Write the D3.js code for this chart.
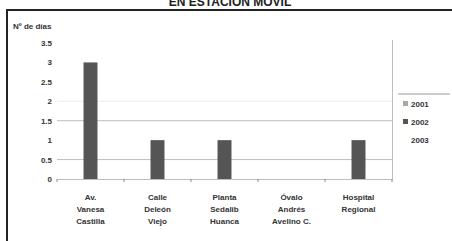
<!DOCTYPE html>
<html><head><meta charset="utf-8">
<script src="https://cdn.jsdelivr.net/npm/d3@7"></script>
<style>body{margin:0;background:#fff}svg{display:block;font-family:"Liberation Sans",Arial,sans-serif}</style>
</head><body><svg id="c" width="452" height="241"></svg>
<script>
const title = "EN ESTACION MOVIL";
const yTitle = "Nº de días";
const categories = [
  ["Av.", "Vanesa", "Castilla"],
  ["Calle", "Deleón", "Viejo"],
  ["Planta", "Sedalib", "Huanca"],
  ["Óvalo", "Andrés", "Avelino C."],
  ["Hospital", "Regional"]
];
const seriesNames = ["2001", "2002", "2003"];
const values2001 = [0, 0, 0, 0, 0];
const values2002 = [3, 1, 1, 0, 1];
const values2003 = [0, 0, 0, 0, 0];
const yTicks = [0, 0.5, 1, 1.5, 2, 2.5, 3, 3.5];
const gridValues = [0.5, 1.5, 2];
const colors = ["#a8a8a8", "#555555", "#f4f4f4"];

const series = [values2001, values2002, values2003];
const svg = d3.select("#c");
const L = 57, R = 392, T = 43, B = 179;

svg.append("text").attr("x", 230).attr("y", 6).attr("text-anchor", "middle")
  .attr("font-size", 12).attr("font-weight", "bold").attr("fill", "#222").text(title);
// outer frame
svg.append("line").attr("x1", 6).attr("x2", 452).attr("y1", 10).attr("y2", 10).attr("stroke", "#222").attr("stroke-width", 2);
svg.append("line").attr("x1", 7).attr("x2", 7).attr("y1", 9).attr("y2", 241).attr("stroke", "#222").attr("stroke-width", 2);

const y = d3.scaleLinear().domain([0, 3.5]).range([B, T]);
const x = d3.scaleBand().domain(d3.range(categories.length)).range([L, R]).paddingInner(0).paddingOuter(0);
const xs = d3.scaleBand().domain(d3.range(series.length)).range([0, x.bandwidth()]).paddingInner(0).paddingOuter(0.9);

// gridlines
svg.append("g").selectAll("line").data(gridValues).join("line")
  .attr("x1", L).attr("x2", R).attr("y1", d => y(d)).attr("y2", d => y(d))
  .attr("stroke", d => d === 2 ? "#ececec" : "#bdbdbd").attr("stroke-width", 1);
// right border of plot
svg.append("line").attr("x1", R + 0.5).attr("x2", R + 0.5).attr("y1", T - 3).attr("y2", B).attr("stroke", "#bdbdbd");

// y axis
const ya = svg.append("g").attr("transform", `translate(${L},0)`)
  .call(d3.axisLeft(y).tickValues(yTicks).tickSize(0).tickPadding(5).tickFormat(d3.format("")));
ya.select(".domain").remove();
ya.selectAll("text").attr("font-size", 8).attr("font-weight", "bold").attr("fill", "#333");
svg.append("text").attr("x", 13).attr("y", 29).attr("font-size", 8).attr("font-weight", "bold").attr("fill", "#333").text(yTitle);

// bars
series.forEach((vals, si) => {
  svg.append("g").selectAll("rect").data(vals).join("rect")
    .attr("x", (d, i) => x(i) + xs(si))
    .attr("width", xs.bandwidth())
    .attr("y", d => y(d))
    .attr("height", d => B - y(d))
    .attr("fill", colors[si]);
});

// x axis
const xa = svg.append("g").attr("transform", `translate(0,${B})`)
  .call(d3.axisBottom(x).tickSize(0).tickFormat(""));
xa.select(".domain").attr("stroke", "#bdbdbd");
svg.append("g").selectAll("line").data(d3.range(categories.length + 1)).join("line")
  .attr("x1", i => L + i * x.bandwidth()).attr("x2", i => L + i * x.bandwidth())
  .attr("y1", B).attr("y2", B + 3).attr("stroke", "#888");
const lab = svg.append("g");
categories.forEach((lines, i) => {
  const t = lab.append("text").attr("text-anchor", "middle").attr("font-size", 8).attr("font-weight", "bold").attr("fill", "#333");
  lines.forEach((s, j) => t.append("tspan").attr("x", x(i) + x.bandwidth() / 2).attr("y", 200 + j * 12).text(s));
});

// legend
svg.append("line").attr("x1", 398).attr("x2", 450).attr("y1", 94).attr("y2", 94).attr("stroke", "#999");
const lg = svg.append("g").selectAll("g").data(seriesNames).join("g")
  .attr("transform", (d, i) => `translate(403,${104 + i * 18})`);
lg.append("rect").attr("x", 0).attr("y", -3).attr("width", 5).attr("height", 5).attr("fill", (d, i) => i === 2 ? "none" : colors[i]);
lg.append("text").attr("x", 8).attr("y", 3).attr("font-size", 8).attr("font-weight", "bold").attr("fill", "#333").text(d => d);
</script></body></html>
